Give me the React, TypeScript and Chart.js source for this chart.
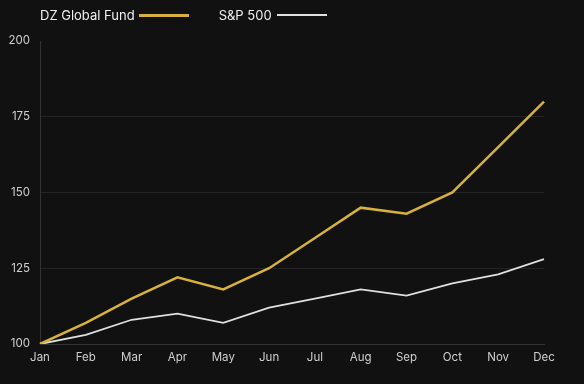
import React, { useEffect, useRef } from "react";
import { Chart, registerables } from "chart.js";

Chart.register(...registerables);

const months = ["Jan", "Feb", "Mar", "Apr", "May", "Jun", "Jul", "Aug", "Sep", "Oct", "Nov", "Dec"];
const fundValues = [100, 107, 115, 122, 118, 125, 135, 145, 143, 150, 165, 180];
const spValues = [100, 103, 108, 110, 107, 112, 115, 118, 116, 120, 123, 128];
const yTicks = [100, 125, 150, 175, 200];
const fundLabel = "DZ Global Fund";
const spLabel = "S&P 500";

const GOLD = "#d6b13c";
const WHITE = "#e0e0e0";
const FONT = "Inter, 'Noto Sans', sans-serif";

export default function App() {
  const ref = useRef<HTMLCanvasElement | null>(null);

  useEffect(() => {
    document.body.style.margin = "0";
    document.body.style.background = "#111111";
    if (!ref.current) return;
    const chart = new Chart(ref.current, {
      type: "line",
      data: {
        labels: months,
        datasets: [
          {
            label: fundLabel,
            data: fundValues,
            borderColor: GOLD,
            borderWidth: 2.5,
            pointRadius: 0,
            tension: 0,
          },
          {
            label: spLabel,
            data: spValues,
            borderColor: WHITE,
            borderWidth: 1.8,
            pointRadius: 0,
            tension: 0,
          },
        ],
      },
      options: {
        animation: false,
        responsive: false,
        maintainAspectRatio: false,
        layout: { padding: { top: 41, right: 40, left: 0, bottom: 0 } },
        plugins: { legend: { display: false }, tooltip: { enabled: false } },
        scales: {
          x: {
            offset: false,
            grid: { display: false, drawTicks: false },
            border: { color: "#333333", width: 1 },
            ticks: { color: "#cfcfcf", font: { family: FONT, size: 11.5 }, padding: 7, maxRotation: 0 },
            afterFit: (s: any) => { s.height = 40; },
          },
          y: {
            min: 100,
            max: 200,
            afterBuildTicks: (s: any) => { s.ticks = yTicks.map((v) => ({ value: v })); },
            grid: {
              color: (ctx: any) => (ctx.tick && ctx.tick.value === 200 ? "rgba(0,0,0,0)" : "#242424"),
              drawTicks: false,
            },
            border: { color: "#333333", width: 1 },
            ticks: { color: "#cfcfcf", font: { family: FONT, size: 11.5 }, padding: 10 },
            afterFit: (s: any) => { s.width = 40; },
          },
        },
      },
    });
    return () => chart.destroy();
  }, []);

  return (
    <div style={{ position: "fixed", left: 0, top: 0, width: 584, height: 384, background: "#111111", fontFamily: FONT }}>
      <canvas ref={ref} width={584} height={384} style={{ position: "absolute", left: 0, top: 0, width: 584, height: 384 }} />
      <div style={{ position: "absolute", left: 40, top: 6, display: "flex", alignItems: "center", color: "#f0f0f0", fontSize: 13, lineHeight: "18px" }}>
        <span>{fundLabel}</span>
        <span style={{ display: "inline-block", width: 50, height: 3, background: GOLD, marginLeft: 4 }} />
        <span style={{ marginLeft: 30 }}>{spLabel}</span>
        <span style={{ display: "inline-block", width: 50, height: 2, background: WHITE, marginLeft: 5 }} />
      </div>
    </div>
  );
}
